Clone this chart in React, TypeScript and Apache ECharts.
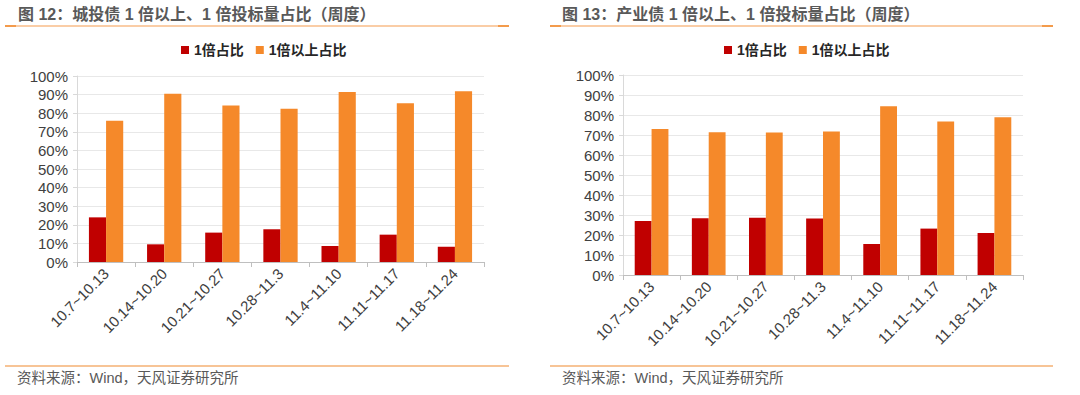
import React, { useEffect, useRef } from "react";
import * as echarts from "echarts";

const categories = ["10.7~10.13", "10.14~10.20", "10.21~10.27", "10.28~11.3", "11.4~11.10", "11.11~11.17", "11.18~11.24"];
const chengtouOne = [24.0, 9.5, 15.8, 17.6, 8.6, 14.7, 8.2];
const chengtouAbove = [76.0, 90.5, 84.2, 82.4, 91.4, 85.3, 91.8];
const chanyeOne = [27.0, 28.4, 28.6, 28.3, 15.5, 23.2, 21.0];
const chanyeAbove = [73.0, 71.4, 71.3, 71.7, 84.4, 76.8, 78.9];
const yTicks = [0, 10, 20, 30, 40, 50, 60, 70, 80, 90, 100];
const seriesNames = ["1倍占比", "1倍以上占比"];
const titles = ["图 12：城投债 1 倍以上、1 倍投标量占比（周度）", "图 13：产业债 1 倍以上、1 倍投标量占比（周度）"];
const sourceText = "资料来源：Wind，天风证券研究所";

const FONT = "'Liberation Sans', Arial, 'Noto Sans CJK SC', sans-serif";
const RED = "#C00000";
const ORANGE = "#F5892A";

export default function App() {
  const ref = useRef<HTMLDivElement>(null);
  useEffect(() => {
    if (!ref.current) return;
    const chart = echarts.init(ref.current, null, { renderer: "svg" });
    const grids = [
      { left: 77, top: 76, width: 407, height: 186 },
      { left: 623, top: 75, width: 400, height: 200 },
    ];
    const xAxis = grids.map((_, i) => ({
      type: "category",
      gridIndex: i,
      data: categories,
      axisLine: { lineStyle: { color: "#BFBFBF", width: 1 } },
      axisTick: { show: true, length: 5, lineStyle: { color: "#BFBFBF" } },
      axisLabel: { interval: 0, rotate: 45, fontSize: 15, color: "#404040", fontFamily: FONT, margin: 9 },
    }));
    const yAxis = grids.map((_, i) => ({
      type: "value",
      gridIndex: i,
      min: yTicks[0],
      max: yTicks[yTicks.length - 1],
      interval: 10,
      axisLine: { show: true, lineStyle: { color: "#D9D9D9" } },
      axisTick: { show: true, length: 4, lineStyle: { color: "#D9D9D9" } },
      axisLabel: { formatter: "{value}%", fontSize: 15, color: "#404040", fontFamily: FONT, margin: 9 },
      splitLine: { lineStyle: { color: "#E8E8E8" } },
    }));
    const data = [
      [chengtouOne, chengtouAbove],
      [chanyeOne, chanyeAbove],
    ];
    const series: any[] = [];
    data.forEach((pair, gi) => {
      pair.forEach((vals, si) => {
        series.push({
          type: "bar",
          name: seriesNames[si],
          xAxisIndex: gi,
          yAxisIndex: gi,
          data: vals,
          barGap: "0%",
          barCategoryGap: "41%",
          itemStyle: { color: si === 0 ? RED : ORANGE },
        });
      });
    });
    const legendCommon = {
      data: seriesNames,
      icon: "rect",
      itemWidth: 8,
      itemHeight: 8,
      itemGap: 12,
      textStyle: { fontSize: 14, color: "#262626", fontFamily: FONT, fontWeight: "bold" },
      top: 38,
    };
    const lines: any[] = [];
    const spans = [
      [5, 509],
      [550, 1053],
    ];
    spans.forEach(([a, b], i) => {
      lines.push({ type: "line", shape: { x1: a, y1: 26, x2: b, y2: 26 }, style: { stroke: "#F8BC88", lineWidth: 1.5 } });
      lines.push({ type: "line", shape: { x1: a, y1: 26, x2: a + 11, y2: 26 }, style: { stroke: "#F08A2E", lineWidth: 1.5 } });
      lines.push({ type: "line", shape: { x1: b - 11, y1: 26, x2: b, y2: 26 }, style: { stroke: "#F08A2E", lineWidth: 1.5 } });
      lines.push({ type: "line", shape: { x1: a, y1: 366, x2: b, y2: 366 }, style: { stroke: "#F08A2E", lineWidth: 1.2 } });
      lines.push({
        type: "text",
        x: i === 0 ? 18 : 562,
        y: 14,
        style: { text: titles[i], fontSize: 16, fontWeight: "bold", fill: "#595959", fontFamily: FONT, verticalAlign: "middle" },
      });
      lines.push({
        type: "text",
        x: i === 0 ? 17 : 562,
        y: 378,
        style: { text: sourceText, fontSize: 14.5, fill: "#595959", fontFamily: FONT, verticalAlign: "middle" },
      });
    });
    chart.setOption({
      animation: false,
      grid: grids,
      xAxis,
      yAxis,
      series,
      legend: [
        { ...legendCommon, left: 176 },
        { ...legendCommon, left: 719 },
      ],
      graphic: lines,
    });
    return () => chart.dispose();
  }, []);
  return <div ref={ref} style={{ position: "absolute", left: 0, top: 0, width: 1080, height: 395, background: "#fff" }} />;
}
